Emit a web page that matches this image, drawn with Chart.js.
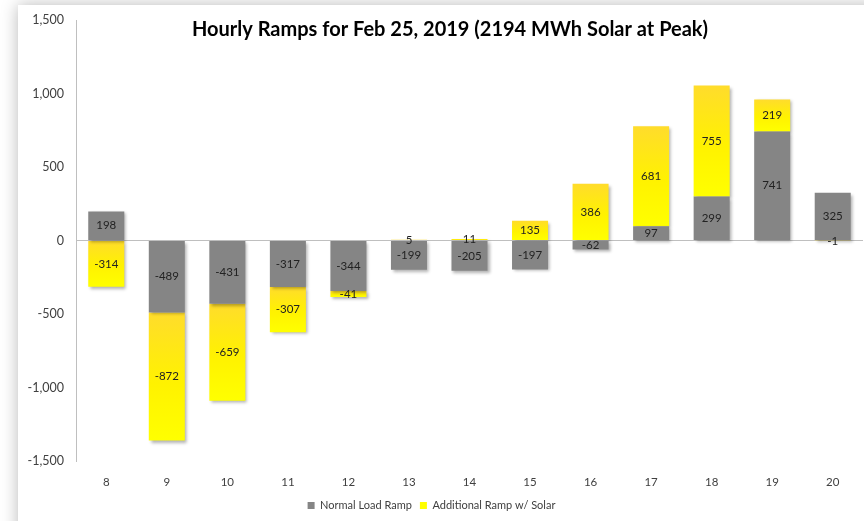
<!DOCTYPE html>
<html>
<head>
<meta charset="utf-8">
<script src="https://cdn.jsdelivr.net/npm/chart.js@4/dist/chart.umd.min.js"></script>
<style>
  html, body { margin: 0; padding: 0; background: #fff; }
  #wrap { position: relative; width: 864px; height: 521px; }
</style>
</head>
<body>
<div id="wrap"><canvas id="rampChart" width="864" height="521"></canvas></div>
<script>
'use strict';

// Horas del día (eje X)
const hours = ['8', '9', '10', '11', '12', '13', '14', '15', '16', '17', '18', '19', '20'];

// Rampa normal de carga (MWh)
const normalRamp = [198, -489, -431, -317, -344, -199, -205, -197, -62, 97, 299, 741, 325];

// Rampa adicional con solar (MWh)
const solarRamp = [-314, -872, -659, -307, -41, 5, 11, 135, 386, 681, 755, 219, -1];

const yTicks = [-1500, -1000, -500, 0, 500, 1000, 1500];

const chartTitle = 'Hourly Ramps for Feb 25, 2019 (2194 MWh Solar at Peak)';
const FONT = "'Lato', 'Open Sans', sans-serif";

// panel blanco con sombra suave, como la captura de Excel
const panelPlugin = {
    id: 'panel',
    beforeDraw(chart) {
        const c = chart.ctx;
        c.save();
        c.shadowColor = 'rgba(0,0,0,0.28)';
        c.shadowBlur = 16;
        c.fillStyle = '#fff';
        c.fillRect(18, 5, 900, 600);
        c.restore();
    }
};

// sombra de las barras
const barShadowPlugin = {
    id: 'barShadow',
    beforeDatasetsDraw(chart) {
        const c = chart.ctx;
        c.save();
        c.shadowColor = 'rgba(0,0,0,0.3)';
        c.shadowBlur = 3;
        c.shadowOffsetX = 2;
        c.shadowOffsetY = 2;
    },
    afterDatasetsDraw(chart) {
        chart.ctx.restore();
    }
};

// etiquetas de valor en el centro de cada segmento
const valueLabelPlugin = {
    id: 'valueLabels',
    afterDatasetsDraw(chart) {
        const c = chart.ctx;
        c.save();
        c.font = '11.5px ' + FONT;
        c.fillStyle = '#222';
        c.textAlign = 'center';
        c.textBaseline = 'middle';
        chart.data.datasets.forEach((ds, i) => {
            const meta = chart.getDatasetMeta(i);
            meta.data.forEach((bar, j) => {
                const p = bar.getProps(['x', 'y', 'base'], true);
                c.fillText(String(ds.data[j]), p.x, (p.y + p.base) / 2);
            });
        });
        c.restore();
    }
};

// título dibujado dentro del área del gráfico
const titlePlugin = {
    id: 'insideTitle',
    afterDraw(chart) {
        const c = chart.ctx;
        c.save();
        c.font = 'bold 20px ' + FONT;
        c.fillStyle = '#000';
        c.textAlign = 'center';
        c.textBaseline = 'middle';
        c.fillText(chartTitle, 450, 30);
        c.restore();
    }
};

function yellowFill(context) {
    const chart = context.chart;
    const y = chart.scales.y;
    if (!y || !chart.chartArea) return '#ffff00';
    const i = context.dataIndex;
    const v = solarRamp[i];
    const base = (Math.sign(normalRamp[i]) === Math.sign(v)) ? normalRamp[i] : 0;
    const top = Math.max(base, base + v);
    const bottom = Math.min(base, base + v);
    const y0 = y.getPixelForValue(top);
    const y1 = y.getPixelForValue(bottom);
    if (!isFinite(y0) || !isFinite(y1) || y0 === y1) return '#ffdf2a';
    const g = chart.ctx.createLinearGradient(0, y0, 0, y1);
    g.addColorStop(0, '#ffdc2c');
    g.addColorStop(0.55, '#fff200');
    g.addColorStop(1, '#ffff00');
    return g;
}

new Chart(document.getElementById('rampChart'), {
    type: 'bar',
    data: {
        labels: hours,
        datasets: [{
            label: 'Normal Load Ramp',
            data: normalRamp,
            backgroundColor: '#858585',
            categoryPercentage: 1,
            barPercentage: 0.595
        }, {
            label: 'Additional Ramp w/ Solar',
            data: solarRamp,
            backgroundColor: yellowFill,
            categoryPercentage: 1,
            barPercentage: 0.595
        }]
    },
    options: {
        responsive: false,
        animation: false,
        layout: { padding: { top: 20, right: 1, bottom: 0, left: 0 } },
        scales: {
            x: {
                stacked: true,
                grid: { display: false },
                border: { display: false },
                ticks: {
                    color: '#404040',
                    font: { size: 11.5, family: FONT },
                    padding: 6
                },
                afterFit(scale) { scale.height = 31; }
            },
            y: {
                stacked: true,
                min: -1500,
                max: 1500,
                afterBuildTicks(scale) {
                    scale.ticks = yTicks.map(v => ({ value: v }));
                },
                ticks: {
                    color: '#404040',
                    font: { size: 12.5, family: FONT },
                    padding: 12,
                    callback: v => v.toLocaleString('en-US')
                },
                grid: {
                    drawTicks: false,
                    color: ctx => (ctx.tick && ctx.tick.value === 0) ? '#bfbfbf' : 'rgba(0,0,0,0)'
                },
                border: { display: true, color: '#bfbfbf' },
                afterFit(scale) { scale.width = 76; }
            }
        },
        plugins: {
            legend: {
                position: 'bottom',
                labels: {
                    boxWidth: 7,
                    boxHeight: 7,
                    padding: 8,
                    color: '#404040',
                    font: { size: 11, family: FONT }
                }
            },
            tooltip: { enabled: false },
            title: { display: false }
        }
    },
    plugins: [panelPlugin, barShadowPlugin, valueLabelPlugin, titlePlugin]
});
</script>
</body>
</html>
